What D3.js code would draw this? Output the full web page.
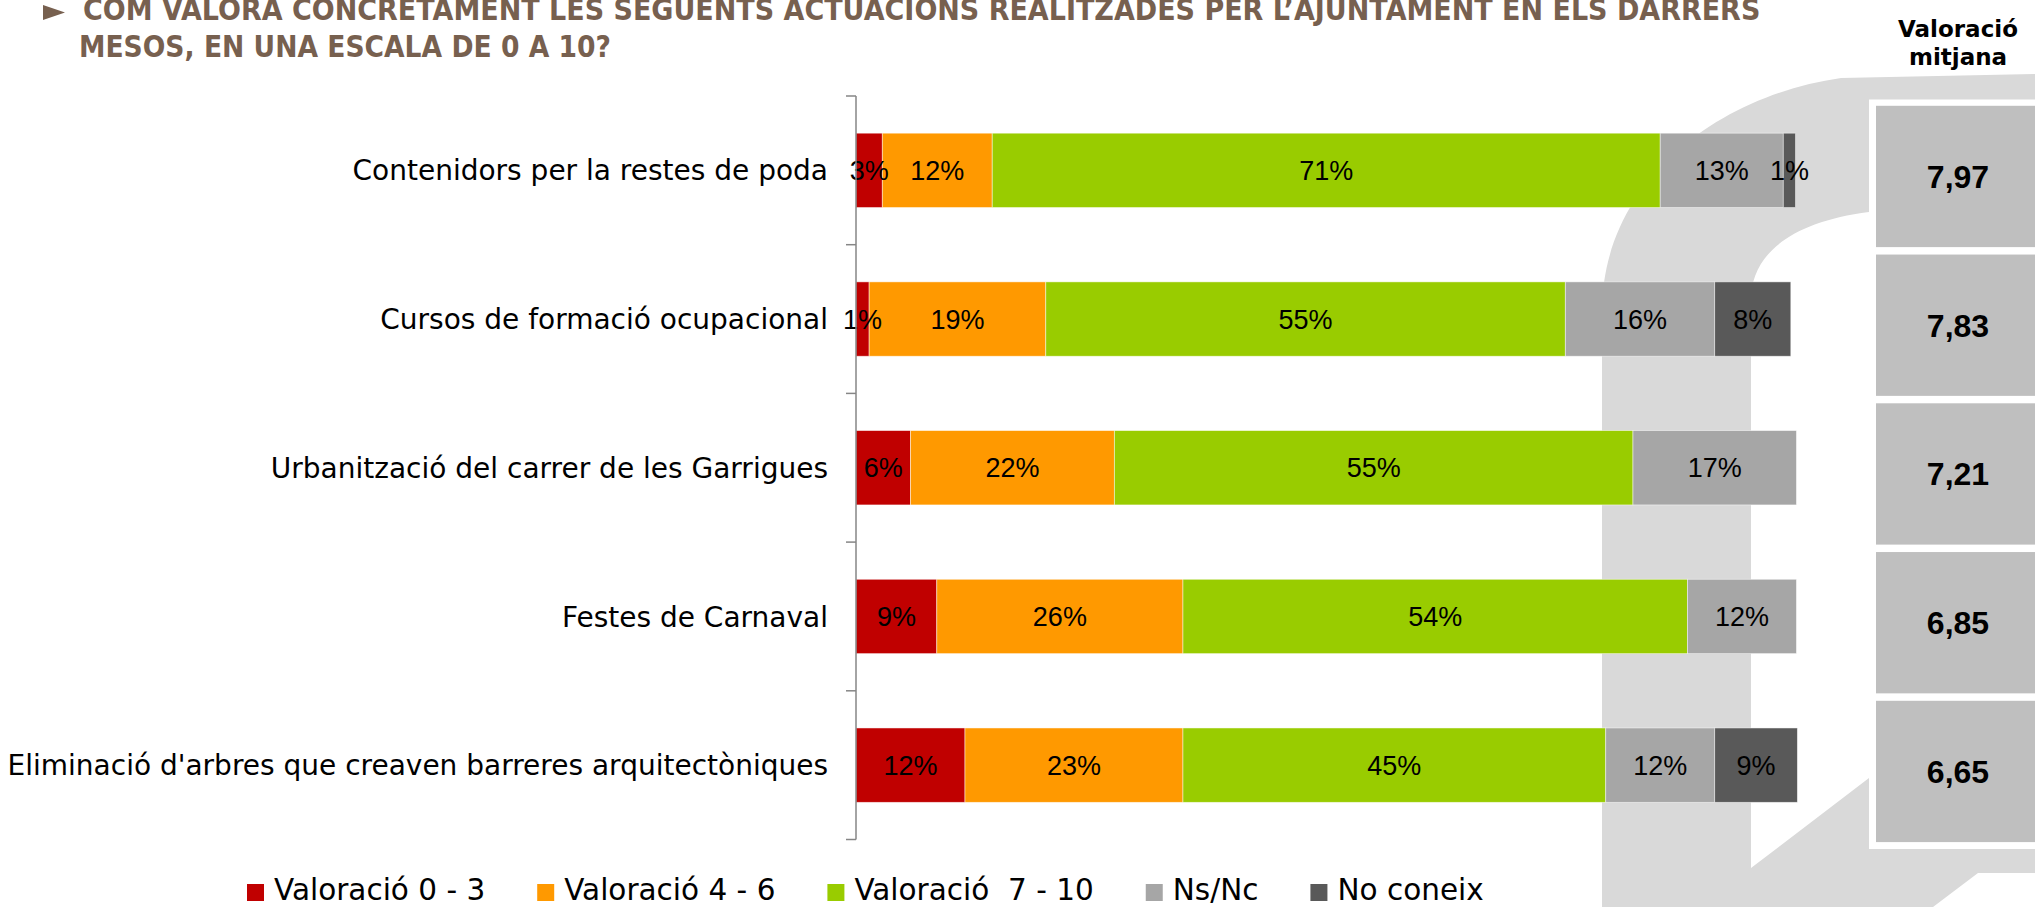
<!DOCTYPE html>
<html>
<head>
<meta charset="utf-8">
<script src="https://cdn.jsdelivr.net/npm/d3@7"></script>
<style>
  html, body { margin: 0; padding: 0; background: #fff; }
  svg { display: block; }
</style>
</head>
<body>
<svg id="chart" width="2035" height="907"></svg>
<script>
// ---------------- DATA ----------------
const categories = [
  "Contenidors per la restes de poda",
  "Cursos de formació ocupacional",
  "Urbanització del carrer de les Garrigues",
  "Festes de Carnaval",
  "Eliminació d'arbres que creaven barreres arquitectòniques"
];
const seriesNames = ["Valoració 0 - 3", "Valoració 4 - 6", "Valoració  7 - 10", "Ns/Nc", "No coneix"];
const seriesColors = ["#c00000", "#ff9900", "#99cc00", "#a6a6a6", "#595959"];
const val0_3   = [2.8, 1.4, 5.8, 8.6, 11.6];
const val4_6   = [11.7, 18.8, 21.7, 26.2, 23.2];
const val7_10  = [71.1, 55.3, 55.2, 53.7, 45.0];
const valNsNc  = [13.1, 15.9, 17.4, 11.6, 11.6];
const valNoCon = [1.3, 8.1, 0, 0, 8.8];
const meanScore = [7.97, 7.83, 7.21, 6.85, 6.65];
const titleLines = [
  "COM VALORA CONCRETAMENT LES SEGUENTS ACTUACIONS REALITZADES PER L’AJUNTAMENT EN ELS DARRERS",
  "MESOS, EN UNA ESCALA DE 0 A 10?"
];
const meanHeader = ["Valoració", "mitjana"];

// ---------------- BUILD ----------------
const seriesArrays = [val0_3, val4_6, val7_10, valNsNc, valNoCon];
const rows = categories.map((c, i) => {
  const r = { cat: c };
  seriesNames.forEach((s, k) => r[s] = seriesArrays[k][i]);
  return r;
});
const stacked = d3.stack().keys(seriesNames)(rows);

const svg = d3.select("#chart");

const x = d3.scaleLinear().domain([0, 100]).range([856, 1795.5]);
const y = d3.scaleBand().domain(categories).range([96, 839.5]).paddingInner(0.5).paddingOuter(0.25);
const yBox = d3.scaleBand().domain(categories).range([105.8, 842.1]).paddingInner(0.05);

// ---- watermark logo (background decoration) ----
svg.append("path")
  .attr("d",
    "M1602,907 L1602,312 C1602,180 1720,95 1841,78 L2035,74 L2035,873 L1978,873 L1933,907 Z " +
    "M1751,868 L1751,300 C1751,255 1790,222 1869,212 L2035,205 L2035,650 L1869,778 Z")
  .attr("fill", "#d9d9d9")
  .attr("fill-rule", "evenodd");

// ---- mean score frame + boxes ----
svg.append("rect")
  .attr("x", 1869).attr("y", 99.5).attr("width", 200).attr("height", 749.5)
  .attr("fill", "#ffffff");
const boxG = svg.append("g");
boxG.selectAll("rect").data(categories).join("rect")
  .attr("x", 1876).attr("y", d => yBox(d))
  .attr("width", 200).attr("height", yBox.bandwidth())
  .attr("fill", "#bfbfbf");
boxG.selectAll("text").data(categories).join("text")
  .attr("x", 1958).attr("y", d => yBox(d) + yBox.bandwidth() / 2)
  .attr("dy", "0.36em")
  .attr("text-anchor", "middle")
  .attr("font-family", "'Liberation Sans', Arial, sans-serif")
  .attr("font-weight", "bold")
  .attr("font-size", 32)
  .attr("fill", "#000")
  .text((d, i) => d3.format(".2f")(meanScore[i]).replace(".", ","));

// header
svg.append("g").selectAll("text").data(meanHeader).join("text")
  .attr("x", 1958).attr("y", (d, i) => 37 + i * 28)
  .attr("text-anchor", "middle")
  .attr("font-family", "'DejaVu Sans', sans-serif")
  .attr("font-weight", "bold")
  .attr("font-size", 23)
  .attr("fill", "#000")
  .text(d => d);

// ---- bars ----
const barG = svg.append("g");
stacked.forEach((layer, k) => {
  barG.append("g").selectAll("rect").data(layer).join("rect")
    .attr("x", d => x(d[0]))
    .attr("y", d => y(d.data.cat))
    .attr("width", d => Math.max(0, x(d[1]) - x(d[0])))
    .attr("height", y.bandwidth())
    .attr("fill", seriesColors[k])
    .attr("stroke", "#ffffff")
    .attr("stroke-opacity", 0.6)
    .attr("stroke-width", 0.8);
});
stacked.forEach((layer, k) => {
  barG.append("g").selectAll("text").data(layer.filter(d => d[1] - d[0] > 0)).join("text")
    .attr("x", d => (x(d[0]) + x(d[1])) / 2)
    .attr("y", d => y(d.data.cat) + y.bandwidth() / 2)
    .attr("dy", "0.36em")
    .attr("text-anchor", "middle")
    .attr("font-family", "'Liberation Sans', Arial, sans-serif")
    .attr("font-size", 27)
    .attr("fill", "#000")
    .text(d => Math.round(d[1] - d[0]) + "%");
});

// ---- y axis ----
const axisG = svg.append("g");
const r0 = y.range()[0], r1 = y.range()[1];
const bounds = d3.range(categories.length + 1).map(i => r0 + i * (r1 - r0) / categories.length);
axisG.append("line")
  .attr("x1", x(0)).attr("x2", x(0)).attr("y1", r0).attr("y2", r1)
  .attr("stroke", "#868686").attr("stroke-width", 1.5);
axisG.selectAll("line.tick").data(bounds).join("line")
  .attr("class", "tick")
  .attr("x1", x(0) - 10).attr("x2", x(0)).attr("y1", d => d).attr("y2", d => d)
  .attr("stroke", "#868686").attr("stroke-width", 1.5);
axisG.selectAll("text").data(categories).join("text")
  .attr("x", 828)
  .attr("y", d => y(d) + y.bandwidth() / 2)
  .attr("dy", "0.36em")
  .attr("text-anchor", "end")
  .attr("font-family", "'DejaVu Sans', sans-serif")
  .attr("font-size", 28)
  .attr("fill", "#000")
  .text(d => d);

// ---- title ----
svg.append("path")
  .attr("d", "M43,5 L65,12.5 L43,20 Z")
  .attr("fill", "#77604f");
const titleLen = [1678, 532];
const titleX = [83, 79];
const titleG = svg.append("g");
titleLines.forEach((line, i) => {
  const t = titleG.append("text")
    .attr("font-family", "'DejaVu Sans', sans-serif")
    .attr("font-weight", "bold")
    .attr("font-size", 31)
    .attr("fill", "#77604f")
    .text(line);
  const natural = t.node().getComputedTextLength();
  t.attr("transform", `translate(${titleX[i]},${20 + i * 37}) scale(${titleLen[i] / natural},1)`);
});

// ---- legend ----
const legG = svg.append("g");
let lx = 247;
seriesNames.forEach((s, k) => {
  legG.append("rect")
    .attr("x", lx).attr("y", 884).attr("width", 17).attr("height", 17)
    .attr("fill", seriesColors[k]);
  const t = legG.append("text")
    .attr("x", lx + 27).attr("y", 899.5)
    .attr("font-family", "'DejaVu Sans', sans-serif")
    .attr("font-size", 29.5)
    .attr("fill", "#000")
    .style("white-space", "pre")
    .text(s);
  lx += 27 + t.node().getComputedTextLength() + 52;
});
</script>
</body>
</html>
